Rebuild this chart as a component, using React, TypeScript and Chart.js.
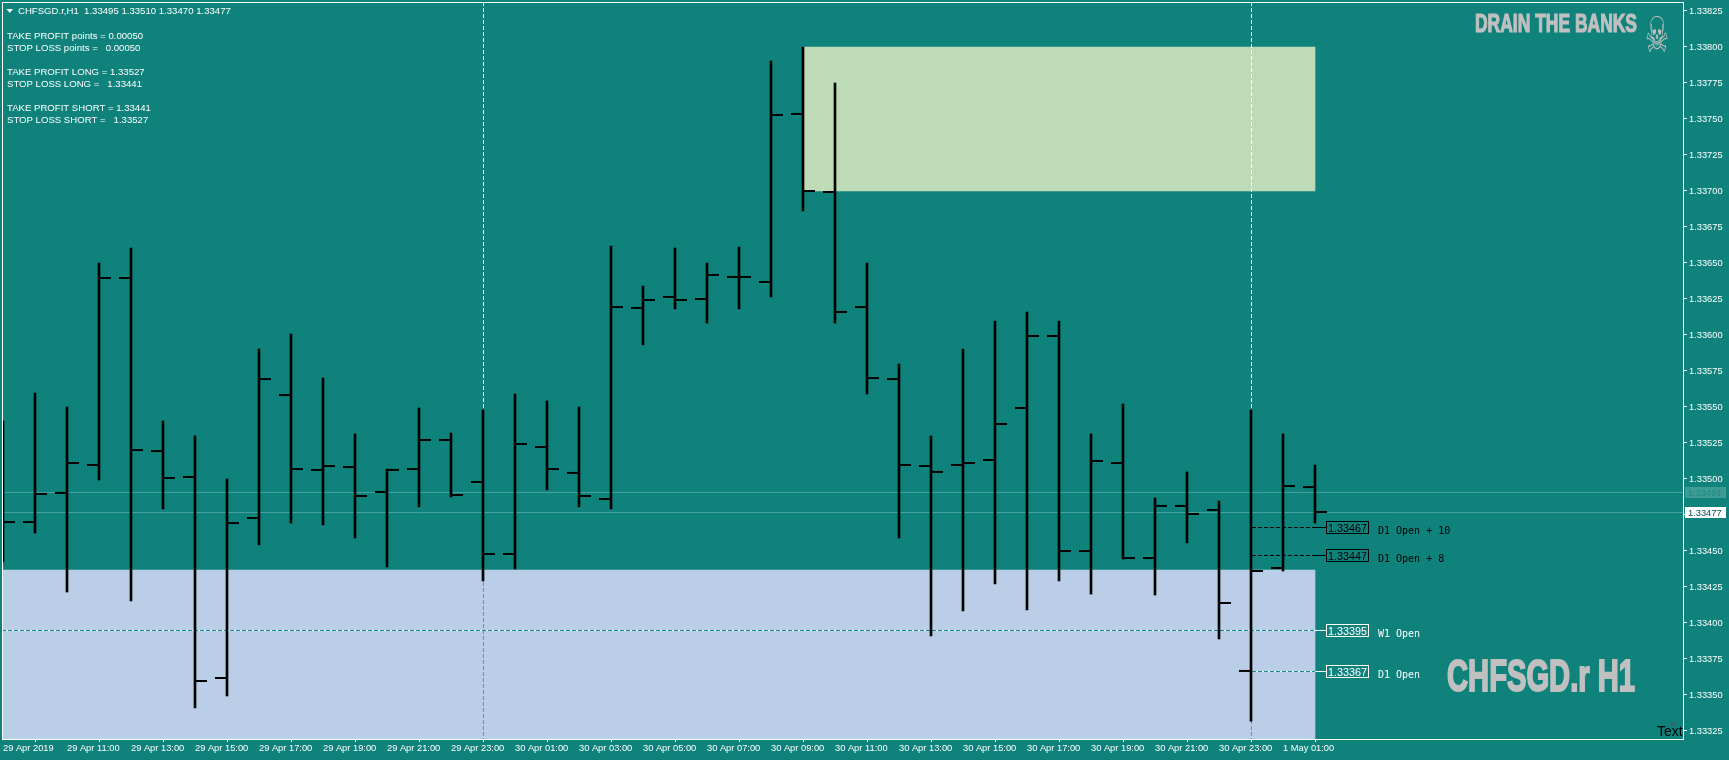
import React, { useEffect, useRef } from "react";
import { Chart, registerables } from "chart.js";

Chart.register(...registerables);

// ---- OHLC bars, one per hour, newest last ----
const highs = [
  1.335403, 1.335597, 1.3355, 1.3365, 1.336604, 1.335403, 1.335299, 1.335, 1.335903, 1.336007, 1.335701, 1.335313, 1.335069, 1.335493,
  1.335319, 1.335479, 1.33559, 1.335542, 1.3355, 1.336618, 1.33634, 1.336604, 1.3365, 1.336611, 1.337903, 1.338, 1.33775, 1.3365,
  1.335799, 1.335299, 1.335903, 1.336097, 1.33616, 1.336097, 1.335313, 1.335521, 1.334868, 1.335049, 1.334847, 1.335479, 1.335313, 1.335097,
];
const lows = [
  1.334424, 1.334625, 1.334215, 1.334993, 1.334153, 1.334792, 1.33341, 1.333493, 1.334542, 1.334694, 1.334681, 1.33459, 1.334389, 1.334806,
  1.334875, 1.334292, 1.334375, 1.334924, 1.334806, 1.334792, 1.335931, 1.336181, 1.336083, 1.336181, 1.336264, 1.336861, 1.336083, 1.33559,
  1.33459, 1.33391, 1.334083, 1.334271, 1.33409, 1.334292, 1.334201, 1.334444, 1.334194, 1.334556, 1.333889, 1.333319, 1.334361, 1.334694,
];
const opens = [
  null, 1.334701, 1.334903, 1.335097, 1.336396, 1.335194, 1.335014, 1.333618, 1.334729, 1.335583, 1.335063, 1.335083, 1.33491, 1.335069,
  1.335271, 1.334979, 1.334479, 1.335222, 1.335042, 1.334861, 1.336188, 1.336264, 1.33625, 1.336403, 1.336368, 1.337535, 1.336993, 1.336194,
  1.335694, 1.33509, 1.335097, 1.335132, 1.335493, 1.335993, 1.3345, 1.335111, 1.334451, 1.334813, 1.334785, 1.333667, 1.334382, 1.334944,
];
const closes = [
  1.334701, 1.334896, 1.335111, 1.336396, 1.335201, 1.335007, 1.333597, 1.334694, 1.335694, 1.335069, 1.33509, 1.334882, 1.335063, 1.335271,
  1.334889, 1.334479, 1.335243, 1.335069, 1.334882, 1.336194, 1.336243, 1.336243, 1.336417, 1.336403, 1.337528, 1.337, 1.33616, 1.335701,
  1.335097, 1.335049, 1.335111, 1.335382, 1.335993, 1.3345, 1.335125, 1.334451, 1.334813, 1.334757, 1.334139, 1.334361, 1.334951, 1.334771,
];

// ---- axes ----
const timeLabels = [
  "29 Apr 2019", "29 Apr 11:00", "29 Apr 13:00", "29 Apr 15:00", "29 Apr 17:00", "29 Apr 19:00", "29 Apr 21:00", "29 Apr 23:00",
  "30 Apr 01:00", "30 Apr 03:00", "30 Apr 05:00", "30 Apr 07:00", "30 Apr 09:00", "30 Apr 11:00", "30 Apr 13:00", "30 Apr 15:00",
  "30 Apr 17:00", "30 Apr 19:00", "30 Apr 21:00", "30 Apr 23:00", "1 May 01:00",
];
const priceTicks = [
  1.33825, 1.338, 1.33775, 1.3375, 1.33725, 1.337, 1.33675, 1.3365, 1.33625, 1.336, 1.33575, 1.3355, 1.33525, 1.335, 1.33475, 1.3345,
  1.33425, 1.334, 1.33375, 1.3335, 1.33325,
];
const xMin = -0.03125;
const xMax = 52.53125;
const yMin = 1.3331944;
const yMax = 1.3383125;

// ---- zones: [first bar, last bar, low price, high price] ----
const takeProfitZone = [25, 41, 1.337, 1.338];
const stopLossZone = [xMin, 41, yMin, 1.334368];

// ---- price lines ----
const priceLineValues = [1.334906, 1.334767];
const priceLineLabels = ["1.33491", "1.33477"];

// ---- level lines ----
const levelValues = [1.334663, 1.334469, 1.333948, 1.333663];
const levelPrices = ["1.33467", "1.33447", "1.33395", "1.33367"];
const levelNames = ["D1 Open + 10", "D1 Open + 8", "W1 Open", "D1 Open"];
const levelStarts = [39.03, 39.03, xMin, 39.03];
const levelDark = [true, true, false, false];
const levelDashEnd = 41;
const levelBoxStart = 41.34;

// ---- vertical session lines ----
const sessionLines = [15.016, 39.016];

const infoLines = [
  "TAKE PROFIT points = 0.00050",
  "STOP LOSS points =   0.00050",
  "",
  "TAKE PROFIT LONG = 1.33527",
  "STOP LOSS LONG =   1.33441",
  "",
  "TAKE PROFIT SHORT = 1.33441",
  "STOP LOSS SHORT =   1.33527",
];
const headerText = "CHFSGD.r,H1  1.33495 1.33510 1.33470 1.33477";

const TEAL = "#0f827c";
const BAR_SPACING = 32;

const overlay = {
  id: "overlay",
  beforeDraw(chart: any) {
    const { ctx, width, height } = chart;
    ctx.save();
    ctx.fillStyle = TEAL;
    ctx.fillRect(0, 0, width, height);
    ctx.restore();
  },
  afterDraw(chart: any) {
    const { ctx, chartArea: a, scales } = chart;
    const X = scales.x;
    const Y = scales.y;
    ctx.save();

    // frame
    ctx.strokeStyle = "#ffffff";
    ctx.lineWidth = 1;
    ctx.strokeRect(a.left + 0.5, a.top + 0.5, a.right - a.left - 1, a.bottom - a.top);

    ctx.textBaseline = "alphabetic";
    ctx.textAlign = "left";

    // header
    ctx.fillStyle = "#ffffff";
    ctx.beginPath();
    ctx.moveTo(6.5, 9);
    ctx.lineTo(13, 9);
    ctx.lineTo(9.75, 13);
    ctx.closePath();
    ctx.fill();
    ctx.font = '9.6px "Liberation Sans"';
    ctx.fillStyle = "#ffffff";
    ctx.fillText(headerText, 18, 14);

    // information block
    infoLines.forEach((line, i) => {
      if (line) ctx.fillText(line, 7, 39 + i * 12);
    });

    // current price flags
    const flagLeft = 1685;
    const flagWidth = 41;
    const flagFill = ["#3c9b95", "#ffffff"];
    const flagText = ["#1f8a84", "#084f4b"];
    priceLineValues.forEach((v, i) => {
      const y = Math.floor(Y.getPixelForValue(v));
      ctx.fillStyle = flagFill[i];
      ctx.fillRect(flagLeft, y - 5, flagWidth, 11);
      ctx.fillStyle = flagText[i];
      ctx.font = '9.3px "Liberation Sans"';
      ctx.fillText(priceLineLabels[i], flagLeft + 3, y + 4);
    });

    // level boxes and names
    const boxX = Math.round(X.getPixelForValue(levelBoxStart));
    levelValues.forEach((v, i) => {
      const y = Math.floor(Y.getPixelForValue(v));
      const col = levelDark[i] ? "#000000" : "#ffffff";
      ctx.strokeStyle = col;
      ctx.lineWidth = 1;
      ctx.strokeRect(boxX + 0.5, y - 5.5, 42, 12);
      ctx.fillStyle = col;
      ctx.font = '10.8px "Liberation Sans"';
      ctx.fillText(levelPrices[i], boxX + 2, y + 4.5);
      ctx.font = '10px "DejaVu Sans Mono"';
      ctx.fillText(levelNames[i], boxX + 52, y + 7);
    });

    // watermarks
    ctx.fillStyle = "#c0c0c0";
    ctx.strokeStyle = "#c0c0c0";
    ctx.lineWidth = 1.2;
    ctx.font = 'bold 26px "Liberation Sans Narrow", "Liberation Sans"';
    ctx.fillText("DRAIN THE BANKS", 1475, 32, 162);
    ctx.strokeText("DRAIN THE BANKS", 1475, 32, 162);

    ctx.save();
    ctx.translate(1645, 52);
    ctx.scale(1, 1.3);
    ctx.font = '38px "DejaVu Sans"';
    ctx.fillText("\u2620", 0, 0, 24);
    ctx.restore();

    ctx.lineWidth = 2;
    ctx.font = 'bold 45px "Liberation Sans Narrow", "Liberation Sans"';
    ctx.fillText("CHFSGD.r H1", 1447, 691, 188);
    ctx.strokeText("CHFSGD.r H1", 1447, 691, 188);

    ctx.fillStyle = "#555555";
    ctx.font = '9px "DejaVu Sans"';
    ctx.fillText("\u2620", 1669, 727);
    ctx.fillStyle = "#000000";
    ctx.font = '14px "Liberation Sans"';
    ctx.fillText("Text", 1657, 736);
    ctx.restore();
  },
};

const zoneDataset = (zone: number[], color: string) => ({
  type: "bar",
  data: [{ x: (zone[0] + zone[1]) / 2, y: [zone[2], zone[3]] }],
  backgroundColor: color,
  barThickness: (zone[1] - zone[0]) * BAR_SPACING,
  grouped: false,
  borderWidth: 0,
  order: 20,
});

const lineDataset = (points: { x: number; y: number }[], color: string, dash: number[], order: number) => ({
  type: "line",
  data: points,
  borderColor: color,
  borderWidth: 1,
  borderDash: dash,
  pointRadius: 0,
  tension: 0,
  fill: false,
  order,
});

function buildDatasets() {
  const sets: any[] = [];
  sets.push(zoneDataset(takeProfitZone, "#bedbb8"));
  sets.push(zoneDataset(stopLossZone, "#bacee7"));

  priceLineValues.forEach((v) =>
    sets.push(lineDataset([{ x: xMin, y: v }, { x: xMax, y: v }], "#4aa29d", [], 15)),
  );

  sessionLines.forEach((x) => {
    sets.push(lineDataset([{ x, y: yMax }, { x, y: stopLossZone[3] }], "#ffffff", [4, 2], 14));
    sets.push(lineDataset([{ x, y: stopLossZone[3] }, { x, y: yMin }], "#52a57e", [4, 2], 14));
  });

  levelValues.forEach((v, i) => {
    const start = levelStarts[i];
    if (levelDark[i]) {
      sets.push(lineDataset([{ x: levelDashEnd, y: v }, { x: levelBoxStart, y: v }], "#000000", [], 12));
      sets.push(lineDataset([{ x: start, y: v }, { x: levelDashEnd, y: v }], "#000000", [4, 2], 12));
    } else {
      sets.push(lineDataset([{ x: start, y: v }, { x: levelBoxStart, y: v }], "#ffffff", [], 13));
      sets.push(lineDataset([{ x: start, y: v }, { x: levelDashEnd, y: v }], "#0f8f88", [4, 2], 12));
    }
  });

  sets.push({
    type: "bar",
    label: "High-Low",
    data: highs.map((h, i) => ({ x: i, y: [lows[i], h] })),
    backgroundColor: "#000000",
    barThickness: 2,
    grouped: false,
    borderWidth: 0,
    order: 2,
  });
  sets.push({
    type: "scatter",
    label: "Open",
    data: opens.map((v, i) => ({ x: i, y: v })),
    showLine: false,
    pointStyle: "dash",
    pointRadius: 12,
    pointRotation: 180,
    pointBorderWidth: 2,
    pointBorderColor: "#000000",
    order: 1,
  });
  sets.push({
    type: "scatter",
    label: "Close",
    data: closes.map((v, i) => ({ x: i, y: v })),
    showLine: false,
    pointStyle: "dash",
    pointRadius: 12,
    pointRotation: 0,
    pointBorderWidth: 2,
    pointBorderColor: "#000000",
    order: 1,
  });
  return sets;
}

const clearPadding = (height: number | null, width: number | null) => (s: any) => {
  if (height !== null) s.height = height;
  if (width !== null) s.width = width;
  s.paddingLeft = 0;
  s.paddingRight = 0;
  s.paddingTop = 0;
  s.paddingBottom = 0;
};

export default function App() {
  const ref = useRef<HTMLCanvasElement | null>(null);
  useEffect(() => {
    const chart = new Chart(ref.current as HTMLCanvasElement, {
      type: "bar",
      data: { datasets: buildDatasets() as any },
      plugins: [overlay],
      options: {
        animation: false,
        responsive: false,
        devicePixelRatio: 1,
        layout: { autoPadding: false, padding: { left: 2, top: 2, right: 0, bottom: 0 } },
        plugins: { legend: { display: false }, tooltip: { enabled: false }, title: { display: false } },
        events: [],
        scales: {
          x: {
            type: "linear",
            offset: false,
            min: xMin,
            max: xMax,
            afterFit: clearPadding(21, null),
            afterBuildTicks: (s: any) => {
              s.ticks = timeLabels.map((_, k) => ({ value: k * 2 }));
            },
            border: { display: false },
            grid: { drawOnChartArea: false, drawTicks: true, tickLength: 3, color: "#ffffff", tickWidth: 1 },
            ticks: {
              autoSkip: false,
              maxRotation: 0,
              minRotation: 0,
              align: "start",
              padding: 1,
              color: "#ffffff",
              font: { family: '"Liberation Sans"', size: 9.3 },
              callback: (v: any) => timeLabels[Math.round(Number(v) / 2)],
            },
          },
          y: {
            type: "linear",
            position: "right",
            min: yMin,
            max: yMax,
            afterFit: clearPadding(null, 45),
            afterBuildTicks: (s: any) => {
              s.ticks = priceTicks.map((value) => ({ value }));
            },
            border: { display: false },
            grid: { drawOnChartArea: false, drawTicks: true, tickLength: 3, color: "#ffffff", tickWidth: 1 },
            ticks: {
              autoSkip: false,
              padding: 2,
              color: "#ffffff",
              font: { family: '"Liberation Sans"', size: 9.3 },
              callback: (v: any) => Number(v).toFixed(5),
            },
          },
        },
      } as any,
    });
    return () => chart.destroy();
  }, []);

  return (
    <div style={{ position: "fixed", left: 0, top: 0, width: 1729, height: 760, overflow: "hidden", background: TEAL }}>
      <canvas ref={ref} width={1729} height={760} style={{ display: "block", width: 1729, height: 760 }} />
    </div>
  );
}
